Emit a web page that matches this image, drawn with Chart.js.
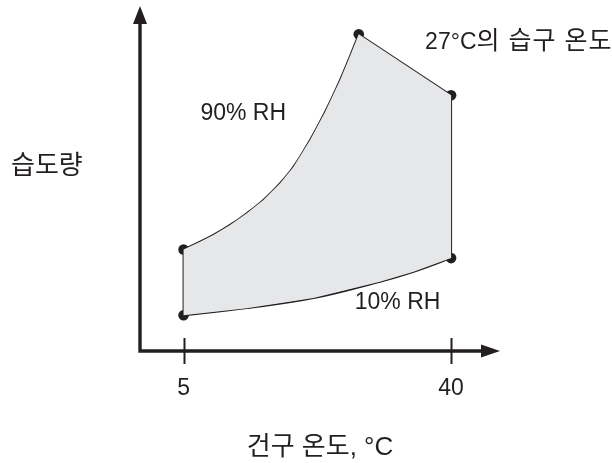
<!DOCTYPE html>
<html>
<head>
<meta charset="utf-8">
<script src="https://cdn.jsdelivr.net/npm/chart.js@4.4.0/dist/chart.umd.min.js"></script>
<style>
  html, body { margin: 0; padding: 0; background: #fff; }
</style>
</head>
<body>
<canvas id="psy" width="612" height="463"></canvas>
<script>
// 건구 온도 (°C) vs 습도량 (schematic units)
const rh90Temp = [5, 7.16, 8.9, 11.08, 13.27, 15.44, 17.63, 19.37, 21.55, 23.51, 25.48, 26.78, 27.92];
const rh90Hum  = [7.1, 7.65, 8.12, 8.82, 9.64, 10.57, 11.74, 12.88, 14.77, 16.72, 18.96, 20.64, 22.16];
const rh10Temp = [5, 13.3, 22.0, 30.7, 35.1, 40];
const rh10Hum  = [2.5, 3.0, 3.7, 4.85, 5.55, 6.5];
const cornerTemp = [5, 5, 27.92, 40, 40];
const cornerHum  = [2.5, 7.1, 22.16, 17.9, 6.5];
const xTickValues = [5, 40];
const xTitle = '건구 온도, °C';
const yTitle = '습도량';
const noteTexts = ['90% RH', '10% RH', '27°C의 습구 온도'];

const ink = '#231f20';
const FONT = '"Liberation Sans", Arial, "Noto Sans CJK KR", sans-serif';

const pts = (xs, ys) => xs.map((x, i) => ({ x: x, y: ys[i] }));
const corners = pts(cornerTemp, cornerHum);

// closed outline of the shaded zone
const area = [
  ...pts(rh90Temp, rh90Hum),
  corners[3],
  ...pts(rh10Temp, rh10Hum).reverse()
];

const axesPlugin = {
  id: 'axes',
  afterDraw(chart) {
    const { ctx, chartArea: a, scales: { x, y } } = chart;
    ctx.save();
    ctx.strokeStyle = ink;
    ctx.fillStyle = ink;

    // axis lines
    ctx.lineWidth = 3.4;
    ctx.beginPath();
    ctx.moveTo(a.left, a.top + 12);
    ctx.lineTo(a.left, a.bottom);
    ctx.lineTo(a.right - 14, a.bottom);
    ctx.stroke();

    // arrow heads
    ctx.beginPath();
    ctx.moveTo(a.left, a.top - 2);
    ctx.lineTo(a.left - 7, a.top + 16);
    ctx.lineTo(a.left + 7, a.top + 16);
    ctx.closePath();
    ctx.fill();
    ctx.beginPath();
    ctx.moveTo(a.right, a.bottom);
    ctx.lineTo(a.right - 19, a.bottom - 6.5);
    ctx.lineTo(a.right - 19, a.bottom + 6.5);
    ctx.closePath();
    ctx.fill();

    // tick marks crossing the axis
    ctx.lineWidth = 2;
    xTickValues.forEach(v => {
      const px = Math.round(x.getPixelForValue(v)) + 0.5;
      ctx.beginPath();
      ctx.moveTo(px, a.bottom - 13);
      ctx.lineTo(px, a.bottom + 13);
      ctx.stroke();
    });

    // notes
    ctx.font = '23px ' + FONT;
    ctx.textBaseline = 'middle';
    ctx.textAlign = 'left';
    ctx.fillText(noteTexts[0], x.getPixelForValue(7.2), y.getPixelForValue(16.6));
    ctx.fillText(noteTexts[1], x.getPixelForValue(27.4), y.getPixelForValue(3.35));

    // wet-bulb note: latin part, then the hangul part a bit larger
    const m = noteTexts[2].match(/^([0-9°A-Za-z]+)(.*)$/);
    let nx = x.getPixelForValue(36.6);
    const ny = y.getPixelForValue(21.6);
    ctx.fillText(m[1], nx, ny);
    nx += ctx.measureText(m[1]).width;
    ctx.font = '25px ' + FONT;
    ctx.letterSpacing = '1px';
    ctx.fillText(m[2], nx, ny);
    ctx.letterSpacing = '0px';

    ctx.font = '26px ' + FONT;
    ctx.fillText(yTitle, 11, y.getPixelForValue(12.9));
    ctx.restore();
  }
};

new Chart(document.getElementById('psy'), {
  type: 'line',
  data: {
    datasets: [
      {
        label: 'zone',
        data: area,
        fill: 'shape',
        backgroundColor: '#e6e7e8',
        borderWidth: 0,
        pointRadius: 0,
        tension: 0
      },
      {
        label: '90% RH',
        data: pts(rh90Temp, rh90Hum),
        borderColor: ink,
        borderWidth: 2,
        pointRadius: 0,
        tension: 0.4,
        fill: false
      },
      {
        label: '10% RH',
        data: pts(rh10Temp, rh10Hum),
        borderColor: ink,
        borderWidth: 2,
        pointRadius: 0,
        tension: 0.4,
        fill: false
      },
      {
        label: 'left edge',
        data: [corners[0], corners[1]],
        borderColor: ink,
        borderWidth: 2,
        pointRadius: 0,
        fill: false
      },
      {
        label: 'right edge',
        data: [corners[2], corners[3], corners[4]],
        borderColor: ink,
        borderWidth: 2,
        pointRadius: 0,
        fill: false
      },
      {
        label: 'points',
        data: corners,
        showLine: false,
        pointRadius: 5.3,
        pointBackgroundColor: ink,
        pointBorderColor: ink,
        pointBorderWidth: 0
      }
    ]
  },
  options: {
    responsive: false,
    animation: false,
    layout: { padding: { left: 140, right: 112, top: 8, bottom: 0 } },
    plugins: {
      legend: { display: false },
      tooltip: { enabled: false }
    },
    scales: {
      x: {
        type: 'linear',
        min: -0.7,
        max: 46.4,
        afterBuildTicks: s => { s.ticks = xTickValues.map(v => ({ value: v })); },
        afterFit: s => { s.height = 112; },
        grid: { display: false, drawTicks: false },
        border: { display: false },
        ticks: {
          color: ink,
          font: { family: FONT, size: 23 },
          padding: 24,
          autoSkip: false,
          maxRotation: 0
        },
        title: {
          display: true,
          text: xTitle,
          color: ink,
          font: { family: FONT, size: 26 },
          padding: { top: 0, bottom: 0 }
        }
      },
      y: { type: 'linear', min: 0, max: 24, display: false }
    }
  },
  plugins: [axesPlugin]
});
</script>
</body>
</html>
